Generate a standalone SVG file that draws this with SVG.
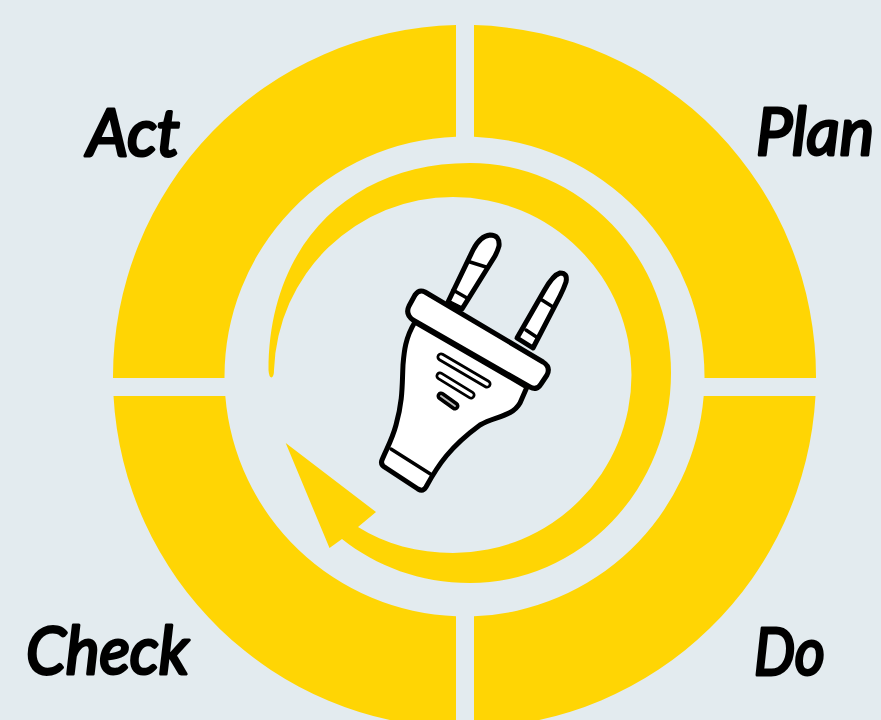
<svg xmlns="http://www.w3.org/2000/svg" width="881" height="720" viewBox="0 0 881 720">
<style>
.y{fill:#ffd504}
.l{font-family:"Lato","Liberation Sans",sans-serif;font-style:italic;font-weight:400;font-size:66px;fill:#000;stroke:#000;stroke-width:3;stroke-linejoin:round;stroke-linecap:round}
.p{fill:#fff;stroke:#000;stroke-width:5;stroke-linejoin:round;stroke-linecap:round}
.t{fill:none;stroke:#000;stroke-width:3.500;stroke-linecap:round}
.v{fill:none;stroke:#000;stroke-linecap:round;stroke-width:9}
.w{fill:none;stroke:#fff;stroke-linecap:round;stroke-width:3.500}
</style>
<rect width="881" height="720" fill="#e3ebef"/>
<g id="act"><path class="y" d="M456 25.100V136.700A240 240 0 0 0 224.500 378H113A351.500 351.500 0 0 1 456 25.100Z"/><text class="l" x="87" y="156" textLength="93" lengthAdjust="spacingAndGlyphs">Act</text></g>
<g id="plan"><path class="y" d="M474 25.100V136.700A240 240 0 0 1 704.500 378H816A351.500 351.500 0 0 0 474 25.100Z"/><text class="l" x="756" y="155" textLength="118" lengthAdjust="spacingAndGlyphs">Plan</text></g>
<g id="check"><path class="y" d="M456 727.900V616.300A240 240 0 0 1 225.300 396H113.500A351.500 351.500 0 0 0 456 727.900Z"/><text class="l" x="26" y="674" textLength="163" lengthAdjust="spacingAndGlyphs">Check</text></g>
<g id="do"><path class="y" d="M474 727.900V616.300A240 240 0 0 0 703.700 396H815.500A351.500 351.500 0 0 1 474 727.900Z"/><text class="l" x="754" y="675" textLength="71" lengthAdjust="spacingAndGlyphs">Do</text></g>
<g id="connectors"><path id="cycle-arrow" class="y" d="M268.500 370C268.500 245 350 163 470 163A201 210 0 0 1 671 373A201 210 0 0 1 470 583C420 583 376 566 342 539L329.500 548L285.700 443L376 512L358 527C385 544 418 553 453 553A178.500 178 0 0 0 453 197A179 179 0 0 0 274 370Q274 377 271.500 377.500Q269 377.500 268.500 370Z"/></g>
<g id="plug">
<path class="p" d="M448 302L473 250Q480 236 490 235Q500 235 499 246Q498 250 495 256L462 309Z"/>
<path class="p" d="M517 338L544 291Q553 275 560 273Q568 273 566 282Q564 288 560 296L533 348Z"/>
<path class="t" d="M470 262L486 267M453 290L467 298M542 300L553 307M526 330L538 338"/>
<path class="p" d="M415 322C405 338 404 353 403 365C402 385 403 400 396 425C392 440 386 450 382 460Q380 465 386 468L418 489Q423 492 426 487C438 465 450 447 480 425C495 416 512 417 520 403L527 387Z"/>
<path class="t" d="M391 449L432 475"/>
<path class="p" d="M425 292L543 362Q551 367 547 375L541 384Q537 391 530 387L413 320Q405 314 409 306L415 295Q419 289 425 292Z"/>
<path class="v" d="M441 357L487 384M440 376L471 395M441 396L455 406"/>
<path class="w" d="M441 357L487 384M440 376L471 395"/>
<path d="M441 396L455 406" fill="none" stroke="#bbb" stroke-width="2" stroke-linecap="round"/>
</g>
</svg>
